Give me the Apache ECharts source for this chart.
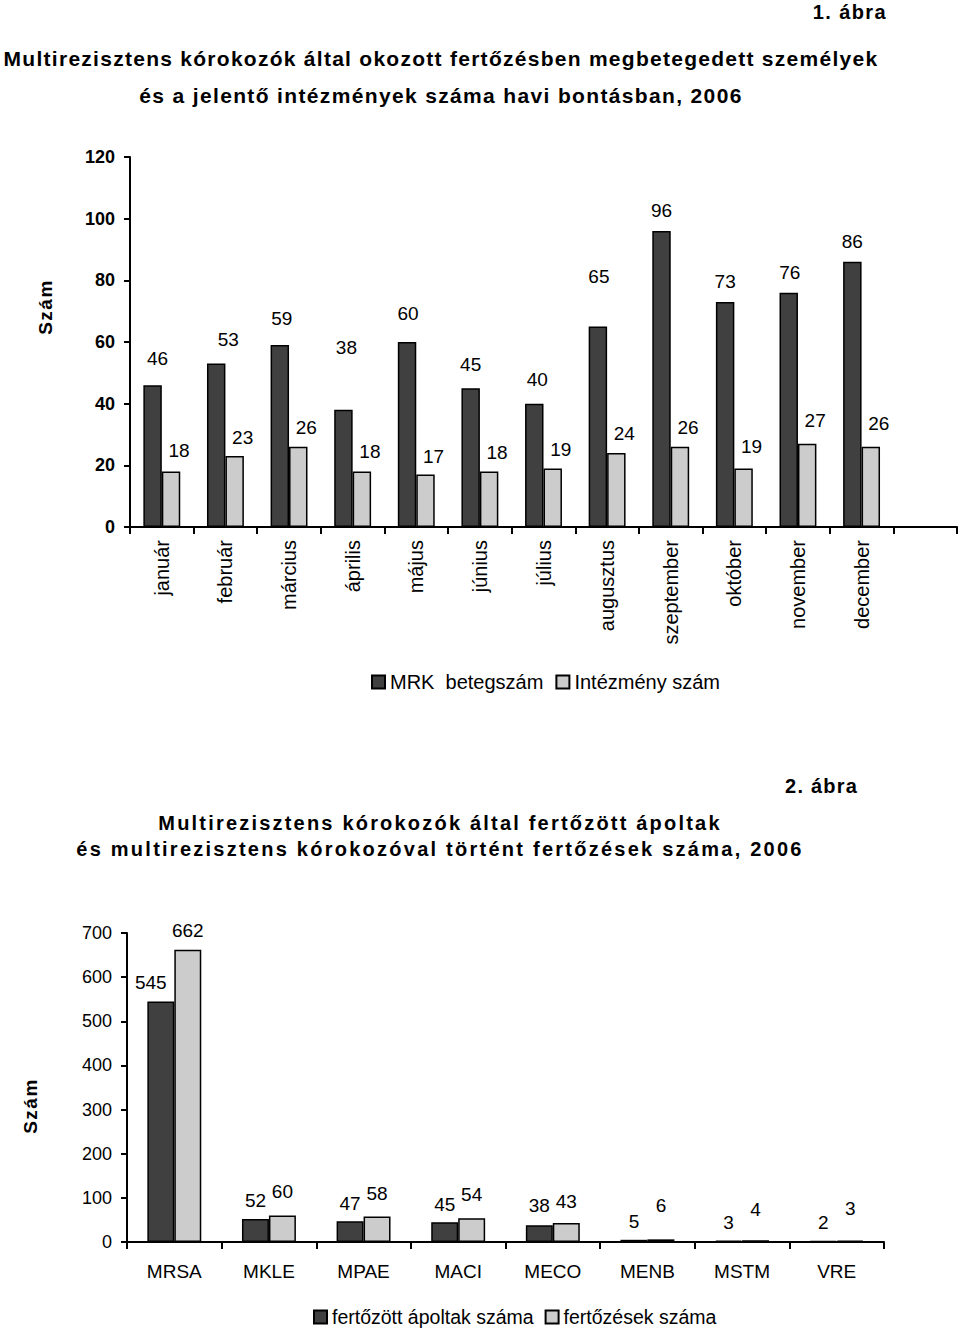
<!DOCTYPE html>
<html>
<head>
<meta charset="utf-8">
<script src="https://cdn.jsdelivr.net/npm/echarts@6/dist/echarts.min.js"></script>
<style>html,body{margin:0;padding:0;background:#fff}#c{width:960px;height:1328px}</style>
</head>
<body>
<div id="c"></div>
<script>
// ---- Chart 1 data ----
const months = ['január','február','március','április','május','június','július','augusztus','szeptember','október','november','december',''];
const mrkBeteg = [46,53,59,38,60,45,40,65,96,73,76,86,null];
const intezmeny = [18,23,26,18,17,18,19,24,26,19,27,26,null];
const yTicks1 = {min:0, max:120, interval:20};

// ---- Chart 2 data ----
const pathogens = ['MRSA','MKLE','MPAE','MACI','MECO','MENB','MSTM','VRE'];
const apoltak = [545,52,47,45,38,5,3,2];
const fertozesek = [662,60,58,54,43,6,4,3];
const yTicks2 = {min:0, max:700, interval:100};

// label placement tweaks (styling only: how far above bar top the label centre sits, x nudge)
const lift1Dark = [28,25,28,63,30,25,25,51,22,21,21,21,0];
const dx1Dark   = [5,12,2,3,1,0,3,1,0,0,1,0,0];
const lift1Light= [22,20,20,21,19,20,20,21,20,23,24,24,0];
const lift2Dark = [20,20,19,19,21,19,19,19];
const dx2Dark   = [-10,0,0,0,0,0,0,0];
const lift2Light= [20,25,24,25,23,35,32,33];

const FONT = 'Liberation Sans, Arial, sans-serif';
const DARK = '#404040', LIGHT = '#cccccc';

const T1a = 'Multirezisztens kórokozók által okozott fertőzésben megbetegedett személyek';
const T1b = 'és a jelentő intézmények száma havi bontásban, 2006';
const T2a = 'Multirezisztens kórokozók által fertőzött ápoltak';
const T2b = 'és multirezisztens kórokozóval történt fertőzések száma, 2006';
const spacing = {};
spacing[T1a] = '1.27px'; spacing[T1b] = '1.35px';
spacing[T2a] = '2.2px'; spacing[T2b] = '2.25px';
spacing['1. ábra'] = '1.4px'; spacing['2. ábra'] = '1.2px'; spacing['Szám'] = '1.5px';

function mkData(vals, lifts, dxs, size, dxConst){
  return vals.map((v,i)=> v==null ? null : ({
    value: v,
    label: {distance: lifts[i] - size/2 - 1, offset: [dxs ? dxs[i] : (dxConst||0), 0]}
  }));
}

const chart = echarts.init(document.getElementById('c'), null, {renderer:'svg'});
function applySpacing(){
  document.querySelectorAll('#c svg text').forEach(t=>{
    const s = spacing[t.textContent];
    if (s) t.style.letterSpacing = s;
  });
}
chart.on('finished', applySpacing);

const axisLine = {lineStyle:{color:'#000', width:2}};
const option = {
  backgroundColor:'#fff',
  animation:false,
  textStyle:{fontFamily:FONT},
  grid:[
    {left:130, top:157, width:827, height:370, containLabel:false},
    {left:127, top:933, width:757, height:309, containLabel:false}
  ],
  xAxis:[
    {type:'category', gridIndex:0, data:months, boundaryGap:true,
     axisLine:axisLine, axisTick:{show:true, length:7, lineStyle:{color:'#000',width:2}},
     axisLabel:{rotate:90, margin:13, fontSize:20, color:'#000', fontFamily:FONT, interval:0}},
    {type:'category', gridIndex:1, data:pathogens, boundaryGap:true,
     axisLine:axisLine, axisTick:{show:true, length:7, lineStyle:{color:'#000',width:2}},
     axisLabel:{margin:20, fontSize:19, color:'#000', fontFamily:FONT, interval:0}}
  ],
  yAxis:[
    {type:'value', gridIndex:0, min:yTicks1.min, max:yTicks1.max, interval:yTicks1.interval,
     axisLine:{show:true, lineStyle:{color:'#000',width:2}}, axisTick:{show:true, length:6, lineStyle:{color:'#000',width:2}},
     splitLine:{show:false},
     axisLabel:{margin:15, fontSize:18, fontWeight:'bold', color:'#000', fontFamily:FONT}},
    {type:'value', gridIndex:1, min:yTicks2.min, max:yTicks2.max, interval:yTicks2.interval,
     axisLine:{show:true, lineStyle:{color:'#000',width:2}}, axisTick:{show:true, length:6, lineStyle:{color:'#000',width:2}},
     splitLine:{show:false},
     axisLabel:{margin:15, fontSize:18, color:'#000', fontFamily:FONT}}
  ],
  legend:[
    {data:['MRK  betegszám','Intézmény szám'], left:366, top:667, itemWidth:13, itemHeight:13, itemGap:12,
     textStyle:{fontSize:20, color:'#000', fontFamily:FONT}, icon:'rect'},
    {data:['fertőzött ápoltak száma','fertőzések száma'], left:308, top:1302, itemWidth:13, itemHeight:13, itemGap:11,
     textStyle:{fontSize:19.5, color:'#000', fontFamily:FONT}, icon:'rect'}
  ],
  series:[
    {name:'MRK  betegszám', type:'bar', xAxisIndex:0, yAxisIndex:0, data:mkData(mrkBeteg, lift1Dark, dx1Dark, 19),
     barGap:'0%', barCategoryGap:'42%',
     itemStyle:{color:DARK, borderColor:'#000', borderWidth:1.5},
     label:{show:true, position:'top', fontSize:19, color:'#000', fontFamily:FONT}},
    {name:'Intézmény szám', type:'bar', xAxisIndex:0, yAxisIndex:0, data:mkData(intezmeny, lift1Light, null, 19, 8),
     barGap:'0%', barCategoryGap:'42%',
     itemStyle:{color:LIGHT, borderColor:'#000', borderWidth:1.5},
     label:{show:true, position:'top', fontSize:19, color:'#000', fontFamily:FONT}},
    {name:'fertőzött ápoltak száma', type:'bar', xAxisIndex:1, yAxisIndex:1, data:mkData(apoltak, lift2Dark, dx2Dark, 19),
     barGap:'0%', barCategoryGap:'43%',
     itemStyle:{color:DARK, borderColor:'#000', borderWidth:1.5},
     label:{show:true, position:'top', fontSize:19, color:'#000', fontFamily:FONT}},
    {name:'fertőzések száma', type:'bar', xAxisIndex:1, yAxisIndex:1, data:mkData(fertozesek, lift2Light, null, 19),
     barGap:'0%', barCategoryGap:'43%',
     itemStyle:{color:LIGHT, borderColor:'#000', borderWidth:1.5},
     label:{show:true, position:'top', fontSize:19, color:'#000', fontFamily:FONT}}
  ],
  graphic:[
    {type:'text', x:887, y:12, style:{text:'1. ábra', font:'bold 20px '+FONT, fill:'#000', align:'right', verticalAlign:'middle'}},
    {type:'text', x:441, y:58, style:{text:T1a, font:'bold 21px '+FONT, fill:'#000', align:'center', verticalAlign:'middle'}},
    {type:'text', x:441, y:95, style:{text:T1b, font:'bold 21px '+FONT, fill:'#000', align:'center', verticalAlign:'middle'}},
    {type:'text', x:45, y:307, rotation:Math.PI/2, style:{text:'Szám', font:'bold 19px '+FONT, fill:'#000', align:'center', verticalAlign:'middle'}},
    {type:'text', x:858, y:786, style:{text:'2. ábra', font:'bold 20px '+FONT, fill:'#000', align:'right', verticalAlign:'middle'}},
    {type:'text', x:440, y:823, style:{text:T2a, font:'bold 20px '+FONT, fill:'#000', align:'center', verticalAlign:'middle'}},
    {type:'text', x:440, y:849, style:{text:T2b, font:'bold 20px '+FONT, fill:'#000', align:'center', verticalAlign:'middle'}},
    {type:'text', x:30, y:1106, rotation:Math.PI/2, style:{text:'Szám', font:'bold 19px '+FONT, fill:'#000', align:'center', verticalAlign:'middle'}}
  ]
};
chart.setOption(option);
applySpacing();
setTimeout(applySpacing, 50);
</script>
</body>
</html>
